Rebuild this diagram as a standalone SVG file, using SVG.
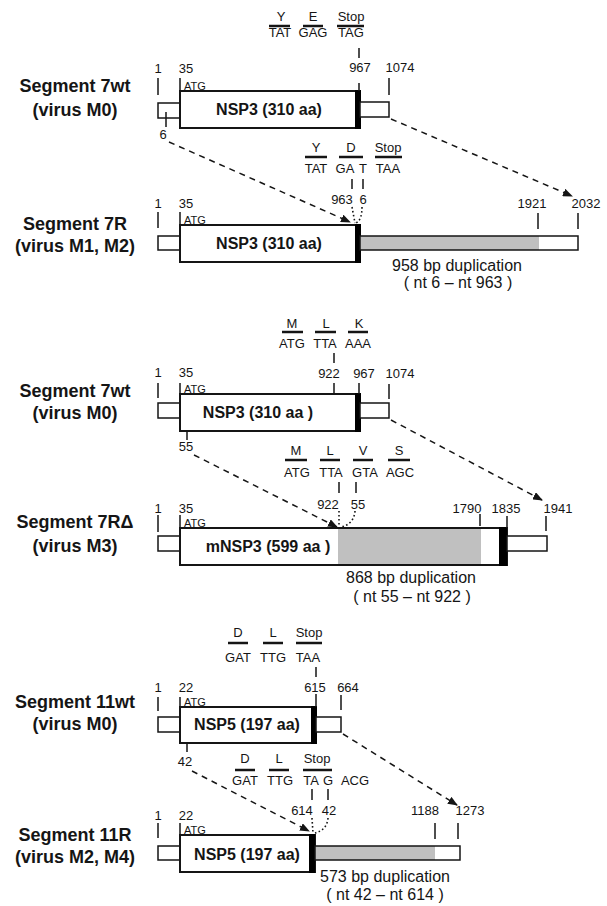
<svg xmlns="http://www.w3.org/2000/svg" width="607" height="906" viewBox="0 0 607 906">
<defs>
<style>
text{font-family:"Liberation Sans",Arial,sans-serif;fill:#151515}
.lbl{font-size:18px;font-weight:bold;text-anchor:middle}
.prot{font-size:16px;font-weight:bold;text-anchor:middle}
.num{font-size:13px;text-anchor:middle}
.atg{font-size:11px}
.cod{font-size:13px;text-anchor:middle}
.dup{font-size:16px;text-anchor:middle}
.box{fill:#fff;stroke:#151515;stroke-width:2}
.utr{fill:#fff;stroke:#151515;stroke-width:1.5}
.ext{fill:none;stroke:#151515;stroke-width:1.5}
.gray{fill:#c0c0c0}
.blk{fill:#000}
.tick{stroke:#151515;stroke-width:1.5}
.bar{stroke:#151515;stroke-width:2.5}
.dash{stroke:#151515;stroke-width:1.5;stroke-dasharray:6 5;fill:none}
.dot{stroke:#151515;stroke-width:1.6;stroke-dasharray:1.6 2.4;fill:none}
</style>
<marker id="ah" markerWidth="10" markerHeight="8" refX="9" refY="4" orient="auto" markerUnits="userSpaceOnUse">
<path d="M0,0 L10,4 L0,8 Z" fill="#151515"/>
</marker>
</defs>
<rect width="607" height="906" fill="#fff"/>

<g id="seg7wt-a">
<text class="lbl" x="75" y="92">Segment 7wt</text>
<text class="lbl" x="75" y="116">(virus M0)</text>
<rect class="utr" x="158" y="103" width="22" height="15"/>
<rect class="box" x="180" y="91" width="180" height="37"/>
<rect class="blk" x="355" y="90" width="6" height="39"/>
<rect class="utr" x="360" y="102" width="29" height="15"/>
<text class="prot" x="269" y="115">NSP3 (310 aa)</text>
<line class="tick" x1="158" y1="78" x2="158" y2="95"/>
<text class="num" x="158" y="73">1</text>
<line class="tick" x1="180" y1="78" x2="180" y2="91"/>
<text class="num" x="186" y="73">35</text>
<text class="atg" x="184" y="90">ATG</text>
<line class="tick" x1="166" y1="112" x2="166" y2="127"/>
<text class="num" x="163" y="139">6</text>
<line class="tick" x1="359" y1="48" x2="359" y2="58"/>
<line class="tick" x1="359" y1="83" x2="359" y2="91"/>
<text class="num" x="360" y="72">967</text>
<line class="tick" x1="389" y1="78" x2="389" y2="95"/>
<text class="num" x="400" y="72">1074</text>
<text class="cod" x="281" y="21">Y</text>
<line class="bar" x1="269" y1="26" x2="290" y2="26"/>
<text class="cod" x="280" y="37">TAT</text>
<text class="cod" x="313" y="21">E</text>
<line class="bar" x1="303" y1="26" x2="323" y2="26"/>
<text class="cod" x="313" y="37">GAG</text>
<text class="cod" x="351" y="21">Stop</text>
<line class="bar" x1="337" y1="26" x2="364" y2="26"/>
<text class="cod" x="351" y="37">TAG</text>
</g>

<g id="seg7R">
<text class="lbl" x="75" y="230">Segment 7R</text>
<text class="lbl" x="75" y="252">(virus M1, M2)</text>
<rect class="utr" x="158" y="236" width="22" height="14"/>
<rect class="box" x="180" y="225" width="180" height="37"/>
<rect class="blk" x="355" y="224" width="6" height="39"/>
<rect class="gray" x="360" y="236" width="179" height="14"/>
<rect class="ext" x="360" y="236" width="218" height="14"/>
<text class="prot" x="269" y="249">NSP3 (310 aa)</text>
<line class="tick" x1="158" y1="212" x2="158" y2="228"/>
<text class="num" x="158" y="208">1</text>
<line class="tick" x1="180" y1="212" x2="180" y2="225"/>
<text class="num" x="186" y="208">35</text>
<text class="atg" x="184" y="224">ATG</text>
<line class="tick" x1="538" y1="213" x2="538" y2="229"/>
<text class="num" x="532" y="208">1921</text>
<line class="tick" x1="578" y1="213" x2="578" y2="229"/>
<text class="num" x="586" y="208">2032</text>
<text class="num" x="342" y="204">963</text>
<text class="num" x="363" y="204">6</text>
<line class="tick" x1="352" y1="179" x2="352" y2="189"/>
<line class="tick" x1="363" y1="179" x2="363" y2="189"/>
<text class="cod" x="316" y="152">Y</text>
<line class="bar" x1="305" y1="157" x2="327" y2="157"/>
<text class="cod" x="316" y="173">TAT</text>
<text class="cod" x="351" y="152">D</text>
<line class="bar" x1="339" y1="157" x2="363" y2="157"/>
<text class="cod" x="345" y="173">GA</text>
<text class="cod" x="363" y="173">T</text>
<text class="cod" x="388" y="152">Stop</text>
<line class="bar" x1="375" y1="157" x2="402" y2="157"/>
<text class="cod" x="388" y="173">TAA</text>
<text class="dup" x="457" y="271">958 bp duplication</text>
<text class="dup" x="458" y="288">( nt 6 – nt 963 )</text>
</g>

<g id="seg7wt-b">
<text class="lbl" x="75" y="397">Segment 7wt</text>
<text class="lbl" x="75" y="419">(virus M0)</text>
<rect class="utr" x="158" y="403" width="22" height="15"/>
<rect class="box" x="180" y="394" width="180" height="37"/>
<rect class="blk" x="355" y="393" width="6" height="39"/>
<rect class="utr" x="360" y="403" width="29" height="15"/>
<text class="prot" x="258" y="418">NSP3 (310 aa )</text>
<line class="tick" x1="158" y1="383" x2="158" y2="398"/>
<text class="num" x="158" y="377">1</text>
<line class="tick" x1="180" y1="383" x2="180" y2="394"/>
<text class="num" x="186" y="377">35</text>
<text class="atg" x="184" y="393">ATG</text>
<line class="tick" x1="187" y1="431" x2="187" y2="440"/>
<text class="num" x="186" y="451">55</text>
<line class="tick" x1="334" y1="353" x2="334" y2="363"/>
<line class="tick" x1="334" y1="383" x2="334" y2="394"/>
<text class="num" x="329" y="378">922</text>
<line class="tick" x1="359" y1="383" x2="359" y2="394"/>
<text class="num" x="364" y="378">967</text>
<line class="tick" x1="389" y1="384" x2="389" y2="399"/>
<text class="num" x="400" y="378">1074</text>
<text class="cod" x="292" y="328">M</text>
<line class="bar" x1="282" y1="332" x2="303" y2="332"/>
<text class="cod" x="292" y="348">ATG</text>
<text class="cod" x="326" y="328">L</text>
<line class="bar" x1="315" y1="332" x2="336" y2="332"/>
<text class="cod" x="325" y="348">TTA</text>
<text class="cod" x="359" y="328">K</text>
<line class="bar" x1="348" y1="332" x2="368" y2="332"/>
<text class="cod" x="358" y="348">AAA</text>
</g>

<g id="seg7RD">
<text class="lbl" x="75" y="528">Segment 7RΔ</text>
<text class="lbl" x="75" y="552">(virus M3)</text>
<rect class="utr" x="158" y="536" width="22" height="15"/>
<rect class="box" x="180" y="528" width="327" height="37"/>
<rect class="gray" x="338" y="529" width="143" height="35"/>
<rect class="blk" x="499" y="527" width="8" height="39"/>
<rect class="utr" x="507" y="536" width="40" height="15"/>
<text class="prot" x="268" y="552">mNSP3 (599 aa )</text>
<line class="tick" x1="158" y1="515" x2="158" y2="532"/>
<text class="num" x="158" y="513">1</text>
<line class="tick" x1="180" y1="515" x2="180" y2="528"/>
<text class="num" x="186" y="513">35</text>
<text class="atg" x="184" y="527">ATG</text>
<line class="tick" x1="480" y1="514" x2="480" y2="526"/>
<text class="num" x="467" y="513">1790</text>
<line class="tick" x1="507" y1="516" x2="507" y2="528"/>
<text class="num" x="506" y="513">1835</text>
<line class="tick" x1="546" y1="516" x2="546" y2="531"/>
<text class="num" x="558" y="513">1941</text>
<text class="num" x="328" y="509">922</text>
<text class="num" x="358" y="509">55</text>
<line class="tick" x1="339" y1="482" x2="339" y2="493"/>
<line class="tick" x1="356" y1="482" x2="356" y2="493"/>
<text class="cod" x="296" y="455">M</text>
<line class="bar" x1="285" y1="460" x2="307" y2="460"/>
<text class="cod" x="297" y="477">ATG</text>
<text class="cod" x="330" y="455">L</text>
<line class="bar" x1="320" y1="460" x2="340" y2="460"/>
<text class="cod" x="331" y="477">TTA</text>
<text class="cod" x="363" y="455">V</text>
<line class="bar" x1="353" y1="460" x2="373" y2="460"/>
<text class="cod" x="365" y="477">GTA</text>
<text class="cod" x="399" y="455">S</text>
<line class="bar" x1="388" y1="460" x2="410" y2="460"/>
<text class="cod" x="400" y="477">AGC</text>
<text class="dup" x="411" y="583">868 bp duplication</text>
<text class="dup" x="412" y="602">( nt 55 – nt 922 )</text>
</g>

<g id="seg11wt">
<text class="lbl" x="75" y="708">Segment 11wt</text>
<text class="lbl" x="75" y="730">(virus M0)</text>
<rect class="utr" x="158" y="717" width="22" height="15"/>
<rect class="box" x="180" y="707" width="136" height="36"/>
<rect class="blk" x="311" y="706" width="6" height="38"/>
<rect class="utr" x="316" y="717" width="25" height="15"/>
<text class="prot" x="247" y="730">NSP5 (197 aa)</text>
<line class="tick" x1="158" y1="697" x2="158" y2="711"/>
<text class="num" x="158" y="692">1</text>
<line class="tick" x1="180" y1="697" x2="180" y2="707"/>
<text class="num" x="186" y="692">22</text>
<text class="atg" x="184" y="706">ATG</text>
<line class="tick" x1="316" y1="667" x2="316" y2="677"/>
<line class="tick" x1="316" y1="694" x2="316" y2="707"/>
<text class="num" x="315" y="692">615</text>
<line class="tick" x1="341" y1="695" x2="341" y2="710"/>
<text class="num" x="348" y="692">664</text>
<line class="tick" x1="187" y1="743" x2="187" y2="752"/>
<text class="num" x="185" y="766">42</text>
<text class="cod" x="238" y="637">D</text>
<line class="bar" x1="228" y1="643" x2="248" y2="643"/>
<text class="cod" x="238" y="662">GAT</text>
<text class="cod" x="273" y="637">L</text>
<line class="bar" x1="263" y1="643" x2="283" y2="643"/>
<text class="cod" x="273" y="662">TTG</text>
<text class="cod" x="309" y="637">Stop</text>
<line class="bar" x1="296" y1="643" x2="322" y2="643"/>
<text class="cod" x="308" y="662">TAA</text>
</g>

<g id="seg11R">
<text class="lbl" x="75" y="841">Segment 11R</text>
<text class="lbl" x="75" y="863">(virus M2, M4)</text>
<rect class="utr" x="158" y="846" width="22" height="14"/>
<rect class="box" x="180" y="835" width="135" height="37"/>
<rect class="blk" x="309" y="834" width="6" height="39"/>
<rect class="gray" x="315" y="846" width="120" height="14"/>
<rect class="ext" x="315" y="846" width="145" height="14"/>
<text class="prot" x="247" y="860">NSP5 (197 aa)</text>
<line class="tick" x1="158" y1="823" x2="158" y2="838"/>
<text class="num" x="158" y="820">1</text>
<line class="tick" x1="180" y1="823" x2="180" y2="835"/>
<text class="num" x="186" y="820">22</text>
<text class="atg" x="184" y="834">ATG</text>
<line class="tick" x1="435" y1="823" x2="435" y2="839"/>
<text class="num" x="425" y="815">1188</text>
<line class="tick" x1="458" y1="823" x2="458" y2="839"/>
<text class="num" x="470" y="815">1273</text>
<text class="num" x="302" y="815">614</text>
<text class="num" x="329" y="815">42</text>
<line class="tick" x1="312" y1="789" x2="312" y2="800"/>
<line class="tick" x1="328" y1="789" x2="328" y2="800"/>
<text class="cod" x="245" y="763">D</text>
<line class="bar" x1="235" y1="770" x2="255" y2="770"/>
<text class="cod" x="245" y="785">GAT</text>
<text class="cod" x="279" y="763">L</text>
<line class="bar" x1="269" y1="770" x2="289" y2="770"/>
<text class="cod" x="280" y="785">TTG</text>
<text class="cod" x="317" y="763">Stop</text>
<line class="bar" x1="303" y1="770" x2="332" y2="770"/>
<text class="cod" x="311" y="785">TA</text>
<text class="cod" x="328" y="785">G</text>
<text class="cod" x="355" y="785">ACG</text>
<text class="dup" x="385" y="882">573 bp duplication</text>
<text class="dup" x="385" y="900">( nt 42 – nt 614 )</text>
</g>

<g id="connectors">
<line class="dash" x1="169" y1="142" x2="350" y2="222" marker-end="url(#ah)"/>
<line class="dash" x1="391" y1="119" x2="572" y2="196" marker-end="url(#ah)"/>
<path class="dot" d="M352,207 L355,223"/>
<path class="dot" d="M362,207 Q362,220 356,223"/>
<line class="dash" x1="194" y1="455" x2="337" y2="527" marker-end="url(#ah)"/>
<line class="dash" x1="391" y1="420" x2="542" y2="500" marker-end="url(#ah)"/>
<path class="dot" d="M339,511 L339,527"/>
<path class="dot" d="M355,511 Q354,524 341,527"/>
<line class="dash" x1="192" y1="771" x2="309" y2="831" marker-end="url(#ah)"/>
<line class="dash" x1="343" y1="734" x2="457" y2="805" marker-end="url(#ah)"/>
<path class="dot" d="M312,818 L313,833"/>
<path class="dot" d="M328,818 Q327,830 315,833"/>
</g>
</svg>
